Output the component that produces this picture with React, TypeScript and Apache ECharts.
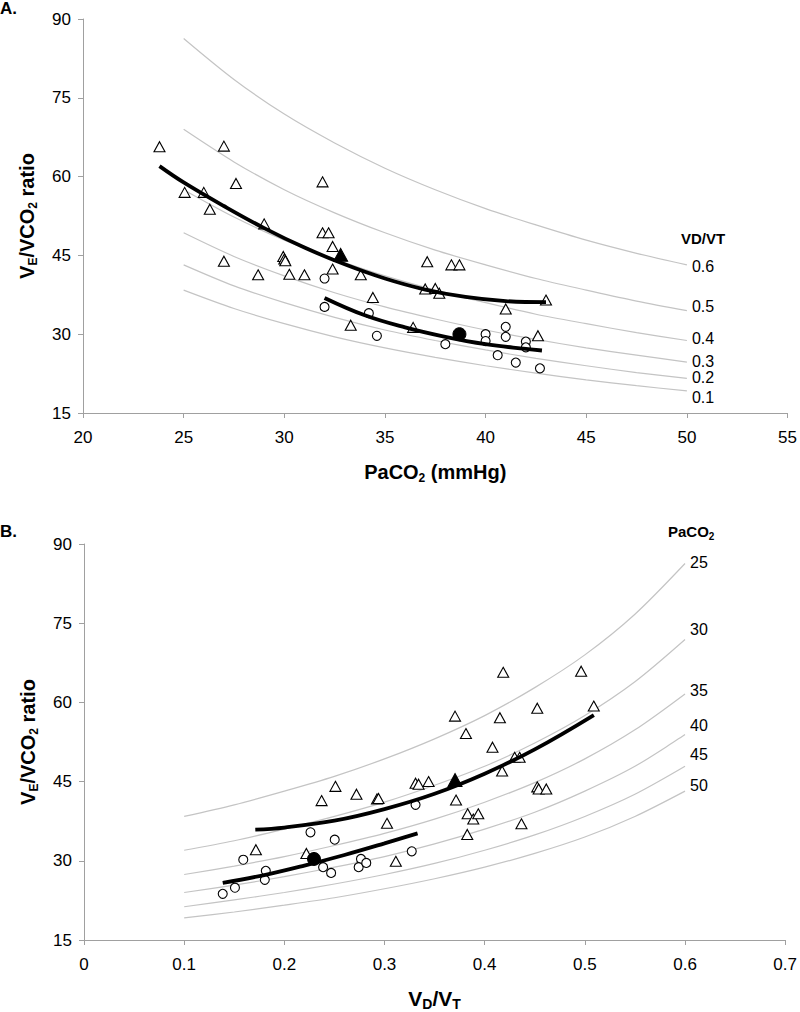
import React, { useEffect, useRef } from "react";
import * as echarts from "echarts";

const FONT = '"Liberation Sans", Arial, Helvetica, sans-serif';

// ---------- Panel A: isopleths of VD/VT (VE/VCO2 vs PaCO2) ----------
const isoXA = [25, 27.5, 30, 32.5, 35, 37.5, 40, 42.5, 45, 47.5, 50];
const isoA_06 = [86.3, 78.5, 71.9, 66.4, 61.6, 57.5, 53.9, 50.8, 47.9, 45.4, 43.2];
const isoA_05 = [69.0, 62.8, 57.5, 53.1, 49.3, 46.0, 43.2, 40.6, 38.4, 36.3, 34.5];
const isoA_04 = [57.5, 52.3, 47.9, 44.3, 41.1, 38.4, 36.0, 33.8, 32.0, 30.3, 28.8];
const isoA_03 = [49.3, 44.8, 41.1, 37.9, 35.2, 32.9, 30.8, 29.0, 27.4, 26.0, 24.7];
const isoA_02 = [43.2, 39.2, 36.0, 33.2, 30.8, 28.8, 27.0, 25.4, 24.0, 22.7, 21.6];
const isoA_01 = [38.4, 34.9, 32.0, 29.5, 27.4, 25.6, 24.0, 22.6, 21.3, 20.2, 19.2];
const isoLabelsA = ["0.6", "0.5", "0.4", "0.3", "0.2", "0.1"];

// ---------- Panel B: isopleths of PaCO2 (VE/VCO2 vs VD/VT) ----------
const isoXB = [0.1, 0.15, 0.2, 0.25, 0.3, 0.35, 0.4, 0.45, 0.5, 0.55, 0.6];
const isoB_25 = [38.4, 40.6, 43.2, 46.0, 49.3, 53.1, 57.5, 62.8, 69.0, 76.7, 86.3];
const isoB_30 = [32.0, 33.8, 36.0, 38.4, 41.1, 44.3, 47.9, 52.3, 57.5, 63.9, 71.9];
const isoB_35 = [27.4, 29.0, 30.8, 32.9, 35.2, 37.9, 41.1, 44.8, 49.3, 54.8, 61.6];
const isoB_40 = [24.0, 25.4, 27.0, 28.8, 30.8, 33.2, 36.0, 39.2, 43.2, 47.9, 53.9];
const isoB_45 = [21.3, 22.6, 24.0, 25.6, 27.4, 29.5, 32.0, 34.9, 38.4, 42.6, 47.9];
const isoB_50 = [19.2, 20.3, 21.6, 23.0, 24.7, 26.6, 28.8, 31.4, 34.5, 38.4, 43.2];
const isoLabelsB = ["25", "30", "35", "40", "45", "50"];

// ---------- Panel A: subjects [PaCO2, VE/VCO2] ----------
const triA = [
  [23.8, 65.7], [25.05, 57.0], [26.0, 57.0], [26.3, 53.8], [27.0, 65.8], [27.6, 58.7],
  [29.0, 51.0], [31.9, 59.0], [31.9, 49.3], [32.2, 49.3], [32.4, 46.7], [27.0, 43.9],
  [28.7, 41.3], [29.95, 44.8], [30.0, 44.3], [30.05, 44.0], [30.25, 41.4], [31.0, 41.3],
  [32.4, 42.4], [33.8, 41.3], [34.4, 37.0], [33.3, 31.7], [37.1, 43.8], [38.3, 43.2],
  [38.7, 43.2], [37.0, 38.6], [37.5, 38.7], [37.7, 37.8], [43.0, 36.5], [41.0, 34.8],
  [36.4, 31.3], [42.6, 29.7],
];
const circA = [
  [32.0, 40.6], [32.0, 35.2], [34.2, 34.0], [34.6, 29.7], [38.0, 28.1], [40.0, 30.0],
  [40.0, 28.7], [41.0, 31.4], [41.0, 29.5], [42.0, 28.6], [42.0, 27.5], [40.6, 26.0],
  [41.5, 24.6], [42.7, 23.5],
];
const meanTriA = [[32.8, 45.1]];
const meanCircA = [[38.7, 30.0]];
const fitTriA = [
  [23.8, 62.0], [25, 58.9], [27, 54.4], [29, 50.2], [31, 46.5], [33, 43.3],
  [35, 40.6], [37, 38.5], [39, 37.1], [41, 36.3], [43, 36.1],
];
const fitCircA = [
  [32.0, 36.9], [34, 33.6], [36, 31.3], [38, 29.5], [40, 28.1], [42, 27.2], [42.8, 26.9],
];

// ---------- Panel B: subjects [VD/VT, VE/VCO2] ----------
const triB = [
  [0.4185, 65.7], [0.4963, 65.9], [0.3704, 57.4], [0.4152, 57.1], [0.4525, 58.9], [0.5089, 59.3],
  [0.3813, 54.1], [0.4078, 51.5], [0.4299, 49.6], [0.4349, 49.6], [0.4174, 47.0], [0.331, 44.7],
  [0.334, 44.5], [0.344, 45.0], [0.3714, 41.5], [0.2925, 41.7], [0.294, 41.8], [0.4525, 44.0],
  [0.4539, 43.6], [0.4615, 43.6], [0.383, 38.9], [0.3886, 37.9], [0.3936, 38.9], [0.4367, 37.0],
  [0.3826, 35.0], [0.3025, 37.1], [0.3113, 29.9], [0.2372, 41.4], [0.251, 44.1], [0.272, 42.6],
  [0.1716, 32.1], [0.222, 31.4],
];
const circB = [
  [0.1385, 23.75], [0.1507, 24.9], [0.159, 30.2], [0.1805, 26.4], [0.1815, 28.1], [0.2261, 35.4],
  [0.2503, 34.0], [0.2387, 28.8], [0.2467, 27.7], [0.2765, 30.35], [0.2742, 28.8], [0.2818, 29.6],
  [0.3272, 31.8], [0.331, 40.6],
];
const meanTriB = [[0.3704, 45.3]];
const meanCircB = [[0.2296, 30.35]];
const fitTriB = [
  [0.171, 35.9], [0.2, 36.3], [0.25, 37.6], [0.3, 39.8], [0.35, 42.7], [0.4, 46.5],
  [0.45, 51.1], [0.509, 57.6],
];
const fitCircB = [
  [0.1385, 25.8], [0.18, 27.3], [0.22, 29.1], [0.26, 31.1], [0.3, 33.3], [0.333, 35.2],
];

const AXIS_COLOR = "#a0a0a0";
const ISO_COLOR = "#c4c4c4";

const subRich = {
  b: { fontFamily: FONT, fontWeight: "bold", fontSize: 20, color: "#000", lineHeight: 22, verticalAlign: "top" },
  s: { fontFamily: FONT, fontWeight: "bold", fontSize: 12, color: "#000", lineHeight: 10, verticalAlign: "bottom" },
  bb: { fontFamily: FONT, fontWeight: "bold", fontSize: 21, color: "#000", lineHeight: 23, verticalAlign: "top" },
  ss: { fontFamily: FONT, fontWeight: "bold", fontSize: 14, color: "#000", lineHeight: 10, verticalAlign: "bottom" },
};

function xAxisCfg(gridIndex: number, min: number, max: number, interval: number, name: string, gap: number) {
  return {
    gridIndex,
    type: "value",
    min,
    max,
    interval,
    axisLine: { show: true, onZero: false, lineStyle: { color: AXIS_COLOR, width: 1 } },
    axisTick: { show: true, length: 5, lineStyle: { color: AXIS_COLOR } },
    splitLine: { show: false },
    axisLabel: { fontFamily: FONT, fontSize: 17, color: "#000", margin: 16 },
    name,
    nameLocation: "middle",
    nameGap: gap,
    nameTextStyle: { fontFamily: FONT, fontWeight: "bold", fontSize: 20, color: "#000", rich: subRich },
  };
}

function yAxisCfg(gridIndex: number) {
  return {
    gridIndex,
    type: "value",
    min: 15,
    max: 90,
    interval: 15,
    axisLine: { show: true, onZero: false, lineStyle: { color: AXIS_COLOR, width: 1 } },
    axisTick: { show: true, length: 5, lineStyle: { color: AXIS_COLOR } },
    splitLine: { show: false },
    axisLabel: { fontFamily: FONT, fontSize: 17, color: "#000", margin: 12 },
    name: "{b|V}{s|E}{b|/VCO}{s|2}{b| ratio}",
    nameLocation: "middle",
    nameRotate: 90,
    nameGap: 44,
    nameTextStyle: { fontFamily: FONT, fontWeight: "bold", fontSize: 20, color: "#000", rich: subRich },
  };
}

function isoSeries(idx: number, xs: number[], ys: number[], label: string, dy: number) {
  return {
    type: "line",
    xAxisIndex: idx,
    yAxisIndex: idx,
    data: xs.map((x, i) => [x, ys[i]]),
    smooth: 0.3,
    showSymbol: false,
    symbol: "none",
    silent: true,
    z: 1,
    lineStyle: { color: ISO_COLOR, width: 1.2 },
    endLabel: {
      show: true,
      formatter: () => label,
      distance: 5,
      offset: [0, dy],
      fontFamily: FONT,
      fontSize: 16,
      color: "#000",
    },
  };
}

function scatter(idx: number, data: number[][], symbol: string, size: any, filled: boolean, z: number) {
  return {
    type: "scatter",
    xAxisIndex: idx,
    yAxisIndex: idx,
    data,
    symbol,
    symbolSize: size,
    z,
    itemStyle: filled
      ? { color: "#000", borderColor: "#000", borderWidth: 1, opacity: 1 }
      : { color: "#fff", borderColor: "#000", borderWidth: 1.1, opacity: 1 },
  };
}

function fitLine(idx: number, data: number[][]) {
  return {
    type: "line",
    xAxisIndex: idx,
    yAxisIndex: idx,
    data,
    smooth: 0.4,
    showSymbol: false,
    symbol: "none",
    z: 4,
    lineStyle: { color: "#000", width: 3.8 },
  };
}

const isoAList = [isoA_06, isoA_05, isoA_04, isoA_03, isoA_02, isoA_01];
const isoAOffsets = [1.7, -3.8, -2, -0.8, -0.6, 6.7];
const isoBList = [isoB_25, isoB_30, isoB_35, isoB_40, isoB_45, isoB_50];
const isoBOffsets = [-1, -10, -3.6, -8.7, -12, -5.3];

const option: any = {
  animation: false,
  backgroundColor: "#fff",
  grid: [
    { left: 83, top: 19, width: 707, height: 394 },
    { left: 84, top: 544, width: 704, height: 397 },
  ],
  xAxis: [
    xAxisCfg(0, 20, 55, 5, "{b|PaCO}{s|2}{b| (mmHg)}", 49),
    xAxisCfg(1, 0, 0.7, 0.1, "{bb|V}{ss|D}{bb|/V}{ss|T}", 48),
  ],
  yAxis: [yAxisCfg(0), yAxisCfg(1)],
  graphic: [
    { type: "text", left: 0, top: 0, style: { text: "A.", fontSize: 17, fontWeight: "bold", fontFamily: FONT, fill: "#000" } },
    { type: "text", left: 0, top: 523, style: { text: "B.", fontSize: 17, fontWeight: "bold", fontFamily: FONT, fill: "#000" } },
    { type: "text", left: 681, top: 231, style: { text: "VD/VT", fontSize: 15, fontWeight: "bold", fontFamily: FONT, fill: "#000" } },
    {
      type: "text",
      left: 668,
      top: 524,
      style: {
        text: "{h|PaCO}{k|2}",
        rich: {
          h: { fontSize: 15, fontWeight: "bold", fontFamily: FONT, fill: "#000", lineHeight: 17, verticalAlign: "top" },
          k: { fontSize: 10, fontWeight: "bold", fontFamily: FONT, fill: "#000", lineHeight: 8, verticalAlign: "bottom" },
        },
      },
    },
  ],
  series: [
    ...isoAList.map((ys, i) => isoSeries(0, isoXA, ys, isoLabelsA[i], isoAOffsets[i])),
    ...isoBList.map((ys, i) => isoSeries(1, isoXB, ys, isoLabelsB[i], isoBOffsets[i])),
    scatter(0, triA, "triangle", [11, 10], false, 3),
    scatter(0, circA, "circle", 9, false, 3),
    fitLine(0, fitTriA),
    fitLine(0, fitCircA),
    scatter(0, meanTriA, "triangle", [14, 13], true, 5),
    scatter(0, meanCircA, "circle", 13, true, 5),
    scatter(1, triB, "triangle", [11, 10], false, 3),
    scatter(1, circB, "circle", 9, false, 3),
    fitLine(1, fitTriB),
    fitLine(1, fitCircB),
    scatter(1, meanTriB, "triangle", [14, 13], true, 5),
    scatter(1, meanCircB, "circle", 13, true, 5),
  ],
};

export default function App() {
  const ref = useRef<HTMLDivElement>(null);
  useEffect(() => {
    const chart = echarts.init(ref.current as HTMLDivElement, null, { renderer: "svg" });
    chart.setOption(option);
    return () => chart.dispose();
  }, []);
  return (
    <div
      ref={ref}
      style={{ position: "absolute", left: 0, top: 0, width: 800, height: 1012, background: "#fff" }}
    />
  );
}
